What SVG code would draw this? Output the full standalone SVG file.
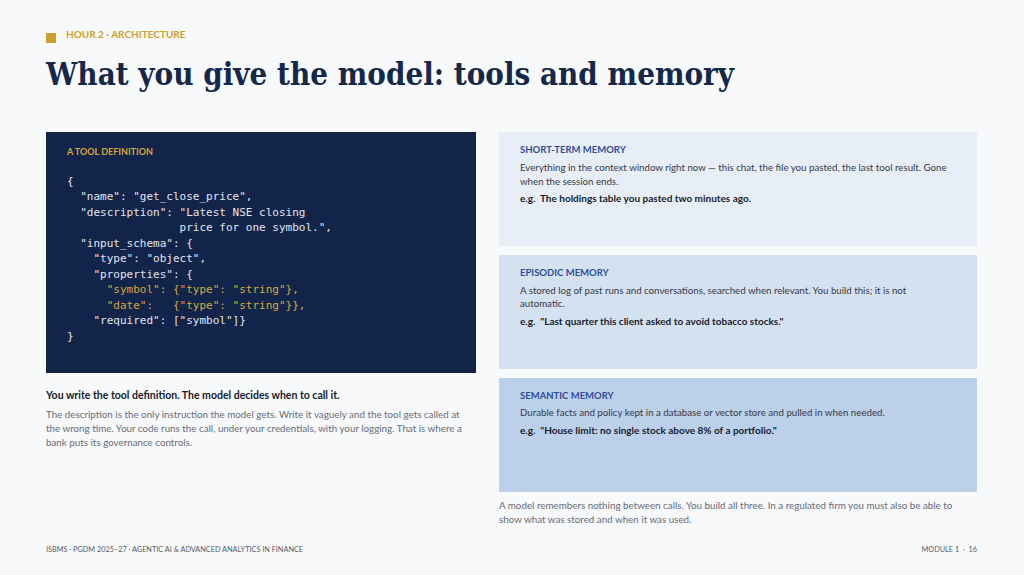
<svg xmlns="http://www.w3.org/2000/svg" width="1024" height="575" viewBox="0 0 1024 575">
<style>
.s{font-family:Lato,"Liberation Sans",sans-serif}
.code{font-family:"DejaVu Sans Mono","Liberation Mono",monospace;font-size:11px;fill:#E2E6EE;white-space:pre}
.y{fill:#D6A83A}
.lbl{font-family:Lato,sans-serif;font-size:9.5px;font-weight:700;fill:#2E4E9A}
.body{font-family:Lato,sans-serif;font-size:9.7px;fill:#333A48}
.eg{font-family:Lato,sans-serif;font-size:10px;font-weight:700;fill:#141C2E;white-space:pre}
.grey{font-family:Lato,sans-serif;font-size:9.8px;fill:#666C78}
.foot{font-family:Lato,sans-serif;font-size:7.3px;fill:#555B66;white-space:pre}
</style>
<rect width="1024" height="575" fill="#F8F9FB"/>
<g id="header">
<rect x="46" y="33" width="10" height="10" fill="#C9A02A"/>
<text x="66" y="38" class="s" font-size="10" font-weight="700" fill="#C9A02A">HOUR 2 · ARCHITECTURE</text>
<text x="46" y="85" font-family="'DejaVu Serif',serif" font-size="31" font-weight="700" fill="#14284B" textLength="688" lengthAdjust="spacingAndGlyphs">What you give the model: tools and memory</text>
</g>
<g id="tool">
<rect x="46" y="132" width="430" height="241" fill="#12244A"/>
<text x="67" y="155" class="s" font-size="9" font-weight="700" fill="#D6A83A">A TOOL DEFINITION</text>
<text class="code" x="67" y="185">{</text>
<text class="code" x="67" y="200">  "name": "get_close_price",</text>
<text class="code" x="67" y="216">  "description": "Latest NSE closing</text>
<text class="code" x="67" y="231">                 price for one symbol.",</text>
<text class="code" x="67" y="247">  "input_schema": {</text>
<text class="code" x="67" y="262">    "type": "object",</text>
<text class="code" x="67" y="278">    "properties": {</text>
<text class="code y" x="67" y="293">      "symbol": {"type": "string"},</text>
<text class="code y" x="67" y="309">      "date":   {"type": "string"}},</text>
<text class="code" x="67" y="324">    "required": ["symbol"]}</text>
<text class="code" x="67" y="340">}</text>
</g>
<g id="tool-caption">
<text x="46" y="399" class="s" font-size="10.5" font-weight="700" fill="#141C2E">You write the tool definition. The model decides when to call it.</text>
<text x="46" y="418" class="grey">The description is the only instruction the model gets. Write it vaguely and the tool gets called at</text>
<text x="46" y="432" class="grey">the wrong time. Your code runs the call, under your credentials, with your logging. That is where a</text>
<text x="46" y="446" class="grey">bank puts its governance controls.</text>
</g>
<g id="short-term">
<rect x="499" y="132" width="478" height="114" fill="#E8EEF8"/>
<text x="520" y="153" class="lbl">SHORT-TERM MEMORY</text>
<text x="520" y="171" class="body">Everything in the context window right now — this chat, the file you pasted, the last tool result. Gone</text>
<text x="520" y="185" class="body">when the session ends.</text>
<text x="520" y="202" class="eg">e.g.  The holdings table you pasted two minutes ago.</text>
</g>
<g id="episodic">
<rect x="499" y="255" width="478" height="114" fill="#D4E1F1"/>
<text x="520" y="276" class="lbl">EPISODIC MEMORY</text>
<text x="520" y="294" class="body">A stored log of past runs and conversations, searched when relevant. You build this; it is not</text>
<text x="520" y="307" class="body">automatic.</text>
<text x="520" y="325" class="eg">e.g.  "Last quarter this client asked to avoid tobacco stocks."</text>
</g>
<g id="semantic">
<rect x="499" y="378" width="478" height="114" fill="#BCD0EA"/>
<text x="520" y="399" class="lbl">SEMANTIC MEMORY</text>
<text x="520" y="416" class="body">Durable facts and policy kept in a database or vector store and pulled in when needed.</text>
<text x="520" y="434" class="eg">e.g.  "House limit: no single stock above 8% of a portfolio."</text>
</g>
<g id="memory-caption">
<text x="499" y="509" class="grey">A model remembers nothing between calls. You build all three. In a regulated firm you must also be able to</text>
<text x="499" y="523" class="grey">show what was stored and when it was used.</text>
</g>
<g id="footer">
<text x="46" y="552" class="foot">ISBMS · PGDM 2025–27 · AGENTIC AI &amp; ADVANCED ANALYTICS IN FINANCE</text>
<text x="977" y="552" class="foot" text-anchor="end">MODULE 1  ·  16</text>
</g>
<g id="connectors"/>
</svg>
